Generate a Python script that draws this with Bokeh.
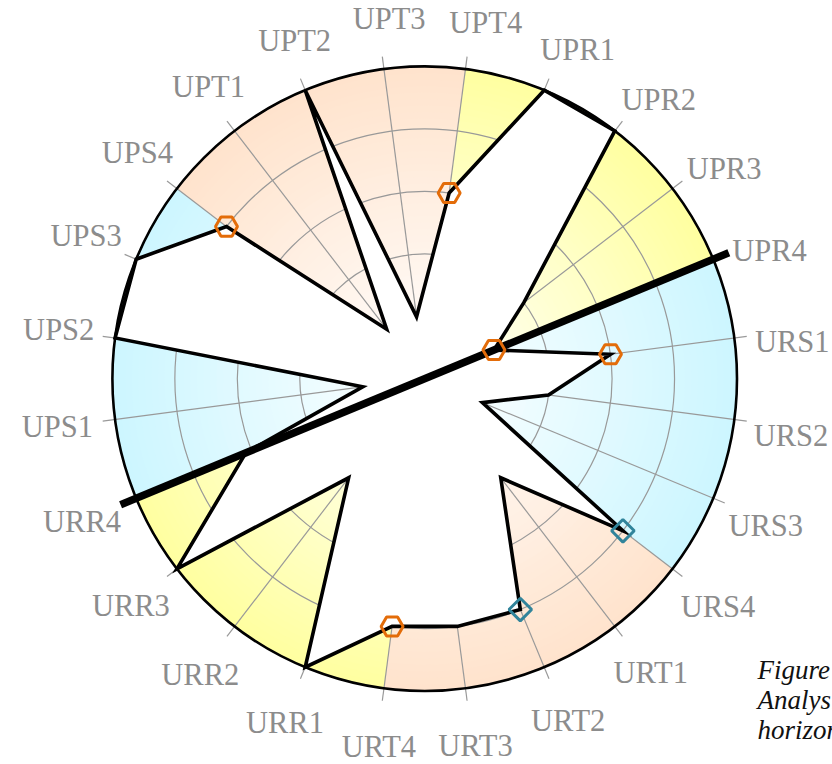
import numpy as np
from bokeh.plotting import figure
from bokeh.models import Range1d, ColumnDataSource
from bokeh.embed import file_html
from bokeh.resources import INLINE
from bokeh.core.properties import value

# ---------------- data ----------------
groups = ["UPR", "URS", "URT", "URR", "UPS", "UPT"]
group_colors = ["#FFFFA0", "#CCF6FF", "#FFE3CC", "#FFFFA0", "#CCF6FF", "#FFE3CC"]
categories = ["UPR1", "UPR2", "UPR3", "UPR4", "URS1", "URS2", "URS3", "URS4",
              "URT1", "URT2", "URT3", "URT4", "URR1", "URR2", "URR3", "URR4",
              "UPS1", "UPS2", "UPS3", "UPS4", "UPT1", "UPT2", "UPT3", "UPT4"]
values = [5, 5, 2, 1.2, 3, 2, 1, 4,
          2, 4, 4, 4, 5, 2, 5, 3.1,
          1, 5, 5, 4, 1, 5, 1, 3]
hex_points = ["UPR4", "URS1", "URT4", "UPS4", "UPT4"]
diamond_points = ["URS4", "URT2"]
horizon_axis = "UPR4"
grid_levels = [1, 2, 3, 4]
max_value = 5
caption_lines = ["Figure 1:", "Analysis of", "horizon"]

# ---------------- layout ----------------
W, H = 832, 764
CX, CY = 424.2, 378.2          # chart centre in canvas pixels
UNIT = 62.46                   # pixels per value unit
FIRST_ANGLE = 22.5             # clockwise from top, degrees
STEP = 360.0 / len(categories)
SPOKE_R = 5.2
HORIZON_R = 5.27
GRID_COLOR = "#999999"
LABEL_RX_PX, LABEL_RY_PX = 370.0, 366.0
LABEL_DROP_PX = 5.0

theta = np.array([FIRST_ANGLE + STEP * i for i in range(len(categories))])  # deg clockwise from top
phi = np.deg2rad(90.0 - theta)  # math angle


def polar(r, ph):
    return np.asarray(r) * np.cos(ph), np.asarray(r) * np.sin(ph)


p = figure(width=W, height=H, output_backend="svg", toolbar_location=None,
           x_range=Range1d(-CX / UNIT, (W - CX) / UNIT),
           y_range=Range1d(-(H - CY) / UNIT, CY / UNIT),
           x_axis_type=None, y_axis_type=None, min_border=0,
           outline_line_color=None, background_fill_color="white")
p.grid.visible = False

# ---------------- gradient sectors ----------------
N = 48
def mix(hexcol, t):
    c = np.array([int(hexcol[i:i + 2], 16) for i in (1, 3, 5)], dtype=float)
    w = np.array([255.0, 255.0, 255.0])
    m = w + (c - w) * t
    return "#%02x%02x%02x" % tuple(int(round(v)) for v in m)

wx, wy, wr, ws, we, wc = [], [], [], [], [], []
per_group = len(categories) // len(groups)
for k in range(N, 0, -1):
    rad = max_value * k / N
    t = (k - 0.5) / N
    for g, col in enumerate(group_colors):
        th_start = theta[g * per_group] - STEP      # start of group sector
        th_end = theta[g * per_group + per_group - 1]
        wx.append(0.0); wy.append(0.0); wr.append(rad)
        ws.append(np.deg2rad(90.0 - th_end))
        we.append(np.deg2rad(90.0 - th_start))
        wc.append(mix(col, t))
p.wedge(x="x", y="y", radius="r", start_angle="s", end_angle="e",
        fill_color="c", line_color=None,
        source=ColumnDataSource(dict(x=wx, y=wy, r=wr, s=ws, e=we, c=wc)))

# ---------------- grid ----------------
p.circle(x=[0] * len(grid_levels), y=[0] * len(grid_levels), radius=grid_levels,
         fill_color=None, line_color=GRID_COLOR, line_width=1.2)
sx1, sy1 = polar(SPOKE_R, phi)
p.segment(x0=[0] * len(phi), y0=[0] * len(phi), x1=sx1, y1=sy1,
          line_color=GRID_COLOR, line_width=1.2)

# ---------------- data polygon ----------------
px, py = polar(values, phi)
p.patch(x=px, y=py, fill_color="white", line_color="black", line_width=3.6,
        line_join="miter")

# outer circle
p.circle(x=[0], y=[0], radius=[max_value], fill_color=None,
         line_color="black", line_width=2.6)

# horizon line
hi = categories.index(horizon_axis)
hx, hy = polar([-HORIZON_R, HORIZON_R], phi[hi])
p.line(x=hx, y=hy, line_color="black", line_width=7.5)

# markers
val = dict(zip(categories, values))
idx = {c: i for i, c in enumerate(categories)}
hx_, hy_ = polar([val[c] for c in hex_points], np.array([phi[idx[c]] for c in hex_points]))
p.scatter(x=hx_, y=hy_, marker="hex", size=22, fill_color=None,
          line_color="#E36C09", line_width=3)
dx_, dy_ = polar([val[c] for c in diamond_points], np.array([phi[idx[c]] for c in diamond_points]))
p.scatter(x=dx_, y=dy_, marker="square", angle=np.pi / 4, size=16, fill_color=None,
          line_color="#31849B", line_width=3)

# ---------------- category labels ----------------
rot = 0.8 + 1.2 * np.cos(np.deg2rad(theta))          # slight clockwise drift, larger at top
lphi = np.deg2rad(90.0 - (theta + rot))
lx = LABEL_RX_PX / UNIT * np.cos(lphi)
ly = LABEL_RY_PX / UNIT * np.sin(lphi) - LABEL_DROP_PX / UNIT
p.text(x=lx, y=ly, text=categories, text_align="center", text_baseline="middle",
       text_font=value("Liberation Serif"), text_font_size="30.5px",
       text_color="#8c8c8c")

# ---------------- caption (cut off at the right edge) ----------------
CAP_X, CAP_Y0, CAP_DY = 757.0, 669.0, 30.0
cx_ = [(CAP_X - CX) / UNIT] * len(caption_lines)
cy_ = [(CY - (CAP_Y0 + CAP_DY * i)) / UNIT for i in range(len(caption_lines))]
p.text(x=cx_, y=cy_, text=caption_lines, text_align="left", text_baseline="alphabetic",
       text_font=value("Liberation Serif"), text_font_style="italic",
       text_font_size="27px", text_color="#111111")

open("out.html", "w").write(file_html(p, INLINE))
